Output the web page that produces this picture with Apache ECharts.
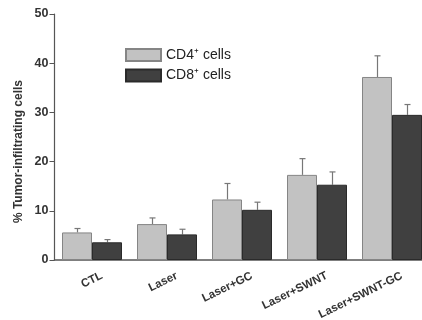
<!DOCTYPE html>
<html><head><meta charset="utf-8">
<script src="https://cdn.jsdelivr.net/npm/echarts@6/dist/echarts.min.js"></script>
<style>html,body{margin:0;padding:0;background:#fff}#c{width:422px;height:320px}</style>
</head><body><div id="c"></div>
<script>
const categories = ['CTL', 'Laser', 'Laser+GC', 'Laser+SWNT', 'Laser+SWNT-GC'];
const cd4Mean = [5.6, 7.3, 12.3, 17.3, 37.2];
const cd4Sd = [0.8, 1.25, 3.25, 3.3, 4.3];
const cd8Mean = [3.6, 5.2, 10.2, 15.3, 29.5];
const cd8Sd = [0.55, 1.05, 1.55, 2.6, 2.1];
const yTicks = [0, 10, 20, 30, 40, 50];
const seriesNames = ['CD4⁺ cells', 'CD8⁺ cells'];

const chart = echarts.init(document.getElementById('c'), null, {renderer: 'canvas'});
const FONT = 'Liberation Sans, Arial, sans-serif';

function errSeries(means, sds, side) {
  return {
    type: 'custom',
    silent: true,
    z: 1,
    data: means.map((m, i) => [i, m, m + sds[i]]),
    renderItem: function (params, api) {
      const band = api.size([1, 0])[0];
      const bw = band * 0.8 / 2;
      const base = api.coord([api.value(0), api.value(1)]);
      const top = api.coord([api.value(0), api.value(2)]);
      const x = Math.round(base[0] + side * bw / 2) + 0.5;
      const cap = 3;
      return {
        type: 'group',
        children: [
          {type: 'line', shape: {x1: x, y1: base[1], x2: x, y2: top[1]}, style: {stroke: '#777', lineWidth: 1.2}},
          {type: 'line', shape: {x1: x - cap, y1: top[1], x2: x + cap, y2: top[1]}, style: {stroke: '#777', lineWidth: 1.2}}
        ]
      };
    }
  };
}

chart.setOption({
  animation: false,
  backgroundColor: '#fff',
  grid: {left: 54.5, width: 375, top: 14, bottom: 60, containLabel: false, outerBoundsMode: 'none'},
  legend: {
    data: seriesNames,
    orient: 'vertical',
    left: 120, top: 43,
    itemWidth: 35, itemHeight: 12, itemGap: 6.5,
    textStyle: {fontFamily: FONT, fontSize: 14, lineHeight: 12, color: '#222'},
    icon: 'rect'
  },
  xAxis: {
    type: 'category',
    data: categories,
    axisLine: {lineStyle: {color: '#555', width: 1.5}},
    axisTick: {alignWithLabel: true, length: 4, lineStyle: {color: '#555'}},
    axisLabel: {
      rotate: 26, margin: 20, padding: [0, -11, 0, 0],
      fontFamily: FONT, fontWeight: 'bold', fontSize: 11.5, color: '#333'
    }
  },
  yAxis: {
    type: 'value',
    min: 0, max: 50, interval: 10,
    splitLine: {show: false},
    axisLine: {show: true, lineStyle: {color: '#555', width: 1.2}},
    axisTick: {show: true, length: 5, lineStyle: {color: '#555'}},
    axisLabel: {
      margin: 6, fontFamily: FONT, fontWeight: 'bold', fontSize: 12.5, color: '#333',
      formatter: v => yTicks.includes(v) ? String(v) : ''
    }
  },
  graphic: [{
    type: 'text',
    left: 13, top: 80,
    rotation: Math.PI / 2,
    style: {text: '% Tumor-infiltrating cells', fontFamily: FONT, fontWeight: 'bold', fontSize: 12, fill: '#333'}
  }],
  series: [
    {
      name: seriesNames[0], type: 'bar', data: cd4Mean, z: 2,
      barGap: '0%', barCategoryGap: '20%',
      itemStyle: {color: '#c2c2c2', borderColor: '#858585', borderWidth: 1}
    },
    {
      name: seriesNames[1], type: 'bar', data: cd8Mean, z: 2,
      barGap: '0%', barCategoryGap: '20%',
      itemStyle: {color: '#404040', borderColor: '#2a2a2a', borderWidth: 1}
    },
    errSeries(cd4Mean, cd4Sd, -1),
    errSeries(cd8Mean, cd8Sd, 1)
  ]
});
</script>
</body></html>
